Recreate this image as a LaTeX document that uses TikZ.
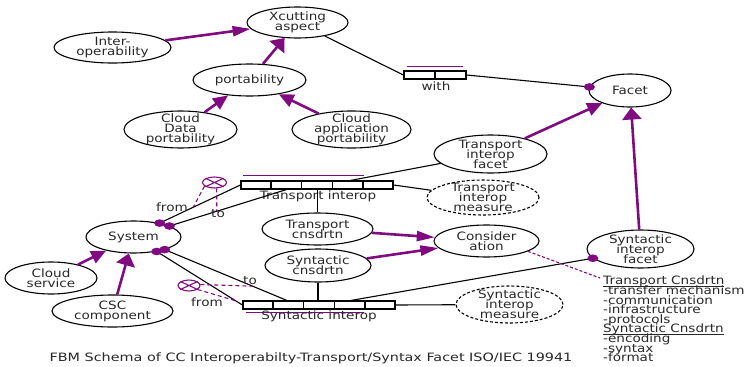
\documentclass[tikz,border=0pt]{standalone}
\usepackage{fontspec}
\setmainfont{DejaVu Sans}[FakeStretch=1.18]
\usetikzlibrary{shapes.geometric,arrows.meta,calc}
\definecolor{fbmpurple}{RGB}{128,10,128}
\definecolor{fbmtext}{RGB}{40,40,40}
\newcommand\fbmfont{\fontsize{11.5pt}{10pt}\selectfont\lineskiplimit=-20pt\lineskip=0pt}
\newcommand\fbmnotefont{\fontsize{11.5pt}{9.6pt}\selectfont\lineskiplimit=-20pt\lineskip=0pt}
\newcommand\fbmul[1]{\setbox0\hbox{#1}\rlap{\rule[-1.8pt]{\wd0}{0.7pt}}\box0}
\tikzset{
  ent/.style={ellipse,draw=black,line width=1.1pt,inner sep=-9pt,align=center,text=fbmtext,font=\fbmfont},
  meas/.style={ent,dash pattern=on 3pt off 2pt},
  relbox/.style={rectangle,draw=black,line width=1.2pt,fill=white,inner sep=0pt,minimum height=8pt},
  conn/.style={draw=black,line width=1.1pt},
  isa/.style={draw=fbmpurple,line width=2.6pt},
  arrH/.style={isa,-{Triangle[length=18pt,width=10pt]}},
  arrV/.style={isa,-{Triangle[length=12pt,width=19pt]}},
  arrD/.style={isa,-{Triangle[length=15pt,width=13pt]}},
  bar/.style={draw=fbmpurple,line width=1.5pt},
  pdash/.style={draw=fbmpurple,line width=1.1pt,dash pattern=on 4pt off 3pt},
  lbl/.style={inner sep=0pt,text=fbmtext,font=\fbmfont},
  xcirc/.style={ellipse,draw=fbmpurple,line width=1.1pt,inner sep=0pt},
  dotfill/.style={fill=fbmpurple}
}
\begin{document}
\begin{tikzpicture}[x=1pt,y=-1pt]
\useasboundingbox (0,0) rectangle (753,367);
% entity ellipses
\node[ent,minimum width=101pt,minimum height=31pt] (xc) at (297.5,22.5) {Xcutting\\aspect};
\node[ent,minimum width=117pt,minimum height=31pt] (iop) at (112.5,47.5) {Inter-\\operability};
\node[ent,minimum width=113pt,minimum height=32pt] (port) at (249.5,80) {portability};
\node[ent,minimum width=113pt,minimum height=37pt] (cdp) at (180.5,129.5) {Cloud\\Data\\portability};
\node[ent,minimum width=119pt,minimum height=37pt] (cap) at (351.5,129.5) {Cloud\\application\\portability};
\node[ent,minimum width=82pt,minimum height=33pt] (facet) at (630,90.5) {Facet};
\node[ent,minimum width=113pt,minimum height=38pt] (tfacet) at (490.5,154) {Transport\\interop\\facet};
\node[meas,minimum width=112pt,minimum height=35pt] (tmeas) at (483,197.5) {Transport\\interop\\measure};
\node[ent,minimum width=105pt,minimum height=32pt] (cons) at (486.5,241) {Consider\\ation};
\node[ent,minimum width=107pt,minimum height=38pt] (sfacet) at (640.5,249) {Syntactic\\interop\\facet};
\node[meas,minimum width=107pt,minimum height=37pt] (smeas) at (509.5,304.5) {Syntactic\\interop\\measure};
\node[ent,minimum width=95pt,minimum height=32pt] (sys) at (133.5,237) {System};
\node[ent,minimum width=111pt,minimum height=32pt] (tcn) at (317.5,229) {Transport\\cnsdrtn};
\node[ent,minimum width=106pt,minimum height=33pt] (scn) at (318,265.5) {Syntactic\\cnsdrtn};
\node[ent,minimum width=92pt,minimum height=32pt] (cs) at (51,278) {Cloud\\service};
\node[ent,minimum width=121pt,minimum height=32pt] (csc) at (112.5,311) {CSC\\component};
% relation boxes
\node[relbox,minimum width=62pt] (with) at (435,75) {};
\draw[conn] (with.north) -- (with.south);
\node[relbox,minimum width=152pt] (tbox) at (317,185) {};
\node[relbox,minimum width=152pt] (sbox) at (319,305) {};
\foreach \f in {0.2,0.4,0.6,0.8}{
  \draw[conn] ($(tbox.north west)!\f!(tbox.north east)$) -- ($(tbox.south west)!\f!(tbox.south east)$);
  \draw[conn] ($(sbox.north west)!\f!(sbox.north east)$) -- ($(sbox.south west)!\f!(sbox.south east)$);
}
\draw[bar] ($(with.north west)+(4,-4)$) -- ($(with.north east)+(-4,-4)$);
\draw[bar] ($(tbox.north west)+(3,-5)$) -- ($(tbox.north west)+(124,-5)$);
\draw[bar] ($(sbox.south west)+(4,3)$) -- ($(sbox.south west)+(122,3)$);
\node[lbl] (withl) at (436,86) {with};
\node[lbl] (tboxl) at (318,196) {Transport interop};
\node[lbl] (sboxl) at (319,316.5) {Syntactic interop};
% purple is-a arrows
\draw[arrH] (iop) -- (xc);
\draw[arrV] (port) -- (xc);
\draw[arrD] (cdp) -- (port);
\draw[arrD] (cap) -- (port);
\draw[arrD] (tfacet) -- (facet);
\draw[arrV] (sfacet) -- (facet);
\draw[arrD] (cs) -- (sys);
\draw[arrV] (csc) -- (sys);
\draw[arrH] (tcn) -- (cons);
\draw[arrH] (scn) -- (cons);
% black connectors
\draw[conn] (xc) -- (with.west);
\draw[conn] (with.east) -- (facet.175);
\draw[conn] ($(tbox.north west)!0.72!(tbox.north east)$) -- (tfacet);
\draw[conn] (tbox.east) -- (tmeas);
\draw[conn] (tcn) -- (tcn |- tbox.south);
\draw[conn] (scn) -- (scn |- sbox.north);
\draw[conn] (sbox.east) -- (smeas);
\draw[conn] ($(sbox.north west)!0.71!(sbox.north east)$) -- (sfacet.191);
\coordinate (tto) at ($(tbox.south west)!0.3!(tbox.south east)$);
\coordinate (sto) at ($(sbox.north west)!0.29!(sbox.north east)$);
\draw[conn] (sys.28) -- (tbox.west);
\draw[conn] (sys.17) -- (tto);
\draw[conn] (sys.-32) -- (sbox.west);
\draw[conn] (sys.-22) -- (sto);
% dots
\foreach \p in {sys.28,sys.17,sys.-32,sys.-22,facet.175,sfacet.191}{
  \fill[dotfill] (\p) ellipse [x radius=5.5pt, y radius=3.8pt];
}
% role labels
\node[lbl] (tfrom) at (172,207) {from};
\node[lbl] (ttol) at (218,214) {to};
\node[lbl] (stol) at (250,281) {to};
\node[lbl] (sfrom) at (207,302) {from};
% crossed circles
\node[xcirc,minimum width=24pt,minimum height=11pt] (tx) at (214.5,182.5) {};
\draw[fbmpurple,line width=1.1pt] (tx.25) -- (tx.205) (tx.155) -- (tx.-25);
\node[xcirc,minimum width=22pt,minimum height=11pt] (sx) at (189,285.5) {};
\draw[fbmpurple,line width=1.1pt] (sx.25) -- (sx.205) (sx.155) -- (sx.-25);
\draw[pdash] (tx.200) -- ($(sys.28)!0.415!(tbox.west)$);
\draw[pdash] (tx.-70) -- ($(sys.17)!0.405!(tto)$);
\draw[pdash] (sx.5) -- ($(sys.-22)!0.72!(sto)$);
\draw[pdash] (sx.-25) -- ($(sys.-32)!0.92!(sbox.west)$);
% note
\node[lbl,font=\fbmnotefont,anchor=north west,align=left] (note) at (603,276) {\fbmul{Transport Cnsdrtn}\\-transfer mechanism\\-communication\\-infrastructure\\-protocols\\\fbmul{Syntactic Cnsdrtn}\\-encoding\\-syntax\\-format};
\draw[pdash,dash pattern=on 3pt off 2pt] (cons.-14) -- ($(note.north west)+(-3,2)$);
% caption
\node[lbl,font=\fbmfont\addfontfeature{FakeStretch=1.25}] (cap0) at (311,358) {FBM Schema of CC Interoperabilty-Transport/Syntax Facet ISO/IEC 19941};
\end{tikzpicture}
\end{document}
